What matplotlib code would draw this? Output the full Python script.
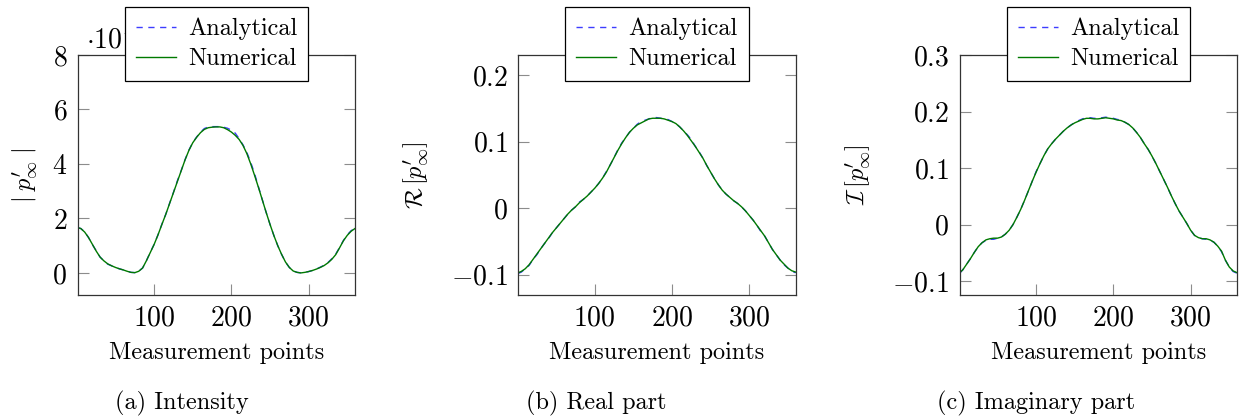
import matplotlib
matplotlib.use("Agg")
import matplotlib.pyplot as plt

plt.rcParams['font.family'] = 'serif'
plt.rcParams['font.serif'] = ['cmr10']
plt.rcParams['mathtext.fontset'] = 'cm'
plt.rcParams['axes.unicode_minus'] = False

points = [1] + list(range(5, 361, 5))

# intensity, in units of 1e-2
intensity_num = [1.66, 1.63, 1.50, 1.30, 1.05, 0.80, 0.58, 0.44, 0.33, 0.26, 0.20, 0.15, 0.11,
                 0.06, 0.02, 0.01, 0.06, 0.18, 0.45, 0.75, 1.05, 1.40, 1.78, 2.15, 2.55, 2.95,
                 3.35, 3.75, 4.15, 4.50, 4.78, 4.98, 5.15, 5.27, 5.33, 5.35, 5.36, 5.36, 5.33,
                 5.26, 5.17, 5.05, 4.90, 4.68, 4.38, 4.00, 3.58, 3.14, 2.68, 2.22, 1.78, 1.37,
                 1.00, 0.68, 0.40, 0.20, 0.07, 0.02, 0.00, 0.02, 0.05, 0.09, 0.14, 0.20, 0.27,
                 0.37, 0.50, 0.67, 0.92, 1.18, 1.38, 1.53, 1.63]
intensity_ana = [1.66, 1.63, 1.51, 1.30, 1.04, 0.81, 0.58, 0.44, 0.32, 0.26, 0.20, 0.15, 0.11,
                 0.06, 0.02, 0.01, 0.06, 0.18, 0.45, 0.76, 1.05, 1.40, 1.79, 2.15, 2.56, 2.96,
                 3.38, 3.76, 4.16, 4.51, 4.79, 4.99, 5.17, 5.30, 5.36, 5.37, 5.37, 5.37, 5.35,
                 5.31, 5.24, 5.13, 4.93, 4.70, 4.42, 4.06, 3.64, 3.16, 2.69, 2.22, 1.78, 1.37,
                 1.00, 0.68, 0.40, 0.20, 0.07, 0.02, 0.00, 0.02, 0.05, 0.09, 0.14, 0.21, 0.28,
                 0.38, 0.52, 0.69, 0.93, 1.19, 1.40, 1.55, 1.64]

real_num = [-0.097, -0.095, -0.091, -0.085, -0.077, -0.069, -0.061, -0.053, -0.045, -0.037,
            -0.030, -0.023, -0.016, -0.009, -0.003, 0.002, 0.008, 0.013, 0.018, 0.024, 0.030,
            0.037, 0.045, 0.054, 0.065, 0.076, 0.087, 0.097, 0.106, 0.114, 0.120, 0.125, 0.128,
            0.131, 0.134, 0.135, 0.135, 0.135, 0.134, 0.132, 0.130, 0.127, 0.122, 0.116, 0.109,
            0.101, 0.093, 0.084, 0.075, 0.064, 0.054, 0.044, 0.035, 0.027, 0.021, 0.016, 0.011,
            0.007, 0.002, -0.004, -0.011, -0.018, -0.026, -0.034, -0.042, -0.052, -0.062,
            -0.070, -0.078, -0.084, -0.090, -0.094, -0.096]
real_ana = [-0.098, -0.096, -0.091, -0.086, -0.077, -0.070, -0.061, -0.053, -0.046, -0.037,
            -0.030, -0.023, -0.016, -0.009, -0.003, 0.002, 0.009, 0.013, 0.018, 0.024, 0.030,
            0.037, 0.045, 0.055, 0.065, 0.076, 0.088, 0.098, 0.106, 0.114, 0.120, 0.126, 0.130,
            0.132, 0.134, 0.136, 0.136, 0.135, 0.134, 0.133, 0.130, 0.127, 0.122, 0.116, 0.110,
            0.103, 0.093, 0.085, 0.075, 0.064, 0.054, 0.044, 0.035, 0.027, 0.021, 0.016, 0.011,
            0.007, 0.002, -0.004, -0.011, -0.018, -0.026, -0.035, -0.042, -0.052, -0.062,
            -0.070, -0.078, -0.085, -0.090, -0.095, -0.097]

imag_num = [-0.085, -0.080, -0.070, -0.060, -0.049, -0.039, -0.032, -0.027, -0.025, -0.024,
            -0.024, -0.022, -0.017, -0.010, 0.000, 0.013, 0.027, 0.043, 0.060, 0.077, 0.093,
            0.108, 0.122, 0.134, 0.143, 0.151, 0.158, 0.165, 0.171, 0.176, 0.180, 0.183, 0.186,
            0.188, 0.188, 0.187, 0.187, 0.188, 0.189, 0.188, 0.187, 0.185, 0.184, 0.181, 0.177,
            0.171, 0.163, 0.154, 0.143, 0.133, 0.121, 0.108, 0.094, 0.080, 0.066, 0.051, 0.037,
            0.024, 0.013, 0.002, -0.010, -0.019, -0.023, -0.025, -0.025, -0.027, -0.031, -0.038,
            -0.047, -0.063, -0.075, -0.082, -0.085]
imag_ana = [-0.086, -0.080, -0.070, -0.060, -0.049, -0.039, -0.032, -0.028, -0.026, -0.026,
            -0.024, -0.022, -0.017, -0.010, 0.000, 0.013, 0.027, 0.043, 0.060, 0.077, 0.094,
            0.108, 0.122, 0.134, 0.143, 0.151, 0.158, 0.165, 0.171, 0.176, 0.181, 0.184, 0.187,
            0.189, 0.189, 0.188, 0.188, 0.189, 0.190, 0.189, 0.188, 0.186, 0.185, 0.181, 0.177,
            0.171, 0.163, 0.154, 0.143, 0.133, 0.121, 0.108, 0.094, 0.080, 0.066, 0.051, 0.037,
            0.024, 0.013, 0.002, -0.010, -0.019, -0.023, -0.025, -0.026, -0.028, -0.031, -0.038,
            -0.048, -0.063, -0.075, -0.083, -0.086]

panels = [
    (intensity_ana, intensity_num, (-0.8, 8.0), [0, 2, 4, 6, 8], ['$0$', '$2$', '$4$', '$6$', '$8$'],
     r"$|\;p^{\prime}_{\infty}\;|$", '(a) Intensity'),
    (real_ana, real_num, (-0.13, 0.23), [-0.1, 0, 0.1, 0.2], ['$-0.1$', '$0$', '$0.1$', '$0.2$'],
     r"$\mathcal{R}\,[p^{\prime}_{\infty}]$", '(b) Real part'),
    (imag_ana, imag_num, (-0.124, 0.3), [-0.1, 0, 0.1, 0.2, 0.3],
     ['$-0.1$', '$0$', '$0.1$', '$0.2$', '$0.3$'], r"$\mathcal{I}\,[p^{\prime}_{\infty}]$",
     '(c) Imaginary part'),
]

W, H = 1245, 418
fig = plt.figure(figsize=(W / 100, H / 100), dpi=100)

ax_left = [77.7, 518.3, 959.7]
ylab_x = [25, 416.7, 858]
cap_x = [181.5, 596, 1036]

for i, (ana, num, ylim, yt, ytl, ylab, cap) in enumerate(panels):
    ax = fig.add_axes([ax_left[i] / W, (H - 294.7) / H, 277.3 / W, 239.7 / H])
    ax.plot(points, ana, color='#3d3dff', lw=1.0, dashes=(4.5, 4), label='Analytical')
    ax.plot(points, num, color='#007a00', lw=1.0, label='Numerical')
    ax.set_xlim(1, 360)
    ax.set_ylim(*ylim)
    ax.set_xticks([100, 200, 300])
    ax.set_xticklabels(['$100$', '$200$', '$300$'])
    ax.set_yticks(yt)
    ax.set_yticklabels(ytl)
    ax.tick_params(axis='both', direction='in', length=8, width=0.8, color='0.55',
                   labelsize=20, pad=7.5)
    ax.tick_params(axis='y', right=True)
    for s in ax.spines.values():
        s.set_color('0.2')
        s.set_linewidth(0.9)

    leg = ax.legend(loc='upper center', bbox_to_anchor=(0.5, 1.2), fontsize=17.5,
                    fancybox=False, framealpha=1, edgecolor='black', handlelength=1.65,
                    handletextpad=0.5, labelspacing=0.32, borderpad=0.45, borderaxespad=0)
    leg.get_frame().set_linewidth(0.9)

    fig.text((ax_left[i] + 138.6) / W, (H - 353) / H, 'Measurement points', fontsize=17.5,
             ha='center', va='center')
    fig.text(ylab_x[i] / W, (H - 175) / H, ylab, fontsize=17.5, rotation=90,
             ha='center', va='center')
    fig.text(cap_x[i] / W, (H - 403) / H, cap, fontsize=17.5, ha='center', va='center')

    if i == 0:
        # exponent label, partly hidden behind the legend
        ax.text(0.03, 1.028, r'$\cdot 10^{-2}$', transform=ax.transAxes, fontsize=20,
                ha='left', va='baseline', zorder=3, clip_on=False)

fig.savefig('out.png', dpi=100)
